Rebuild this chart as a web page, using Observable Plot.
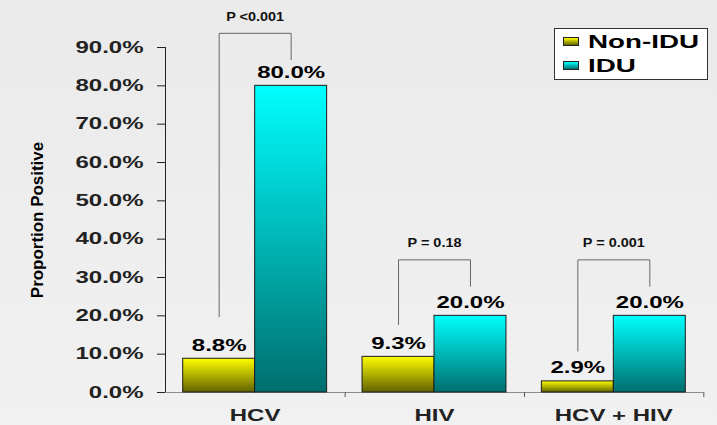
<!DOCTYPE html>
<html>
<head>
<meta charset="utf-8">
<script src="https://cdn.jsdelivr.net/npm/d3@7"></script>
<script src="https://cdn.jsdelivr.net/npm/@observablehq/plot@0.6"></script>
<style>
html, body { margin: 0; padding: 0; }
body { width: 717px; height: 425px; overflow: hidden; background: linear-gradient(#eaeaea, #f1f1f1); font-family: "Liberation Sans", Arial, sans-serif; }
#chart { position: relative; width: 717px; height: 425px; }
#legend { position: absolute; left: 554px; top: 28px; width: 154px; height: 52px; background: #fff; border: 1px solid #333; box-sizing: border-box; }
.sw { position: absolute; left: 8px; width: 16px; height: 9px; border: 1px solid #222; box-sizing: border-box; }
.lab { position: absolute; left: 33px; font-weight: bold; font-size: 18.5px; line-height: 1; white-space: nowrap; transform: scaleX(1.5); transform-origin: left center; color: #000; }
</style>
</head>
<body>
<div id="chart">
  <div id="legend"></div>
</div>
<script>
// ---- data ----
const groups = ["HCV", "HIV", "HCV + HIV"];
const series = ["Non-IDU", "IDU"];
const nonIduValues = [8.8, 9.3, 2.9];
const iduValues = [80.0, 20.0, 20.0];
const pLabels = ["P <0.001", "P = 0.18", "P = 0.001"];
const bracketTop = [93.7, 34.6, 34.6];
const bracketLeftEnd = [19.8, 17.7, 10.8];
const bracketRightEnd = [86.8, 27.7, 27.7];
const pLabelY = [97.0, 37.9, 37.9];
const yTicks = [0, 10, 20, 30, 40, 50, 60, 70, 80, 90];
const yLabel = "Proportion Positive";
const seriesColors = [["#ffff00", "#626200"], ["#00ffff", "#006e6e"]];

// ---- tables built from the arrays ----
const rows = groups.flatMap((g, i) => [
  {group: g, series: series[0], value: nonIduValues[i]},
  {group: g, series: series[1], value: iduValues[i]}
]);
const bracketPts = groups.flatMap((g, i) => [
  {group: g, series: series[0], y: bracketLeftEnd[i]},
  {group: g, series: series[0], y: bracketTop[i]},
  {group: g, series: series[1], y: bracketTop[i]},
  {group: g, series: series[1], y: bracketRightEnd[i]}
]);
const pRows = groups.map((g, i) => ({group: g, label: pLabels[i], y: pLabelY[i]}));

const plot = Plot.plot({
  width: 717,
  height: 425,
  marginTop: 47,
  marginBottom: 33,
  marginLeft: 165,
  marginRight: 14,
  style: {background: "none", fontFamily: '"Liberation Sans", Arial, sans-serif', fontSize: "16px", fontWeight: "bold", color: "#222"},
  fx: {domain: groups, padding: 0, round: false, axis: "bottom", label: null, tickSize: 0, tickPadding: 17},
  x: {domain: series, paddingInner: 0, paddingOuter: 0.246, round: false, axis: null},
  y: {domain: [0, 90], ticks: yTicks, tickFormat: d => d.toFixed(1) + "%", tickSize: 8, tickPadding: 14, line: true,
      label: yLabel, labelArrow: "none", labelAnchor: "center", labelOffset: 134},
  color: {type: "ordinal", domain: series, range: ["url(#gradNonIdu)", "url(#gradIdu)"]},
  marks: [
    Plot.ruleY([0], {stroke: "#8c8c8c"}),
    Plot.ruleX(groups, {fx: d => d, x: () => series[1], y1: 0, y2: -1.3, dx: 54, stroke: "#555"}),
    Plot.barY(rows, {fx: "group", x: "series", y: "value", fill: "series", stroke: "#1c1c1c", strokeWidth: 1}),
    Plot.text(rows, {fx: "group", x: "series", y: "value", text: d => d.value.toFixed(1) + "%", dy: -8, lineAnchor: "bottom",
                     fontSize: 16, fontWeight: "bold", fill: "#000"}),
    Plot.line(bracketPts, {fx: "group", x: "series", y: "y", z: "group", stroke: "#666", strokeWidth: 1}),
    Plot.text(pRows, {fx: "group", y: "y", text: "label", lineAnchor: "bottom", fontSize: 13.5, fontWeight: "bold", fill: "#111"})
  ]
});

const chart = document.getElementById("chart");
chart.insertBefore(plot, chart.firstChild);
const svg = plot.tagName.toLowerCase() === "svg" ? plot : plot.querySelector("svg");

// gradients for the bars
const defs = d3.select(svg).insert("defs", ":first-child");
[["gradNonIdu", seriesColors[0]], ["gradIdu", seriesColors[1]]].forEach(([id, [top, bottom]]) => {
  const g = defs.append("linearGradient").attr("id", id).attr("x1", 0).attr("y1", 0).attr("x2", 0).attr("y2", 1);
  g.append("stop").attr("offset", "0%").attr("stop-color", top);
  g.append("stop").attr("offset", "100%").attr("stop-color", bottom);
});

// y-axis title: bold, no arrow
svg.querySelectorAll("text").forEach(t => {
  if (t.textContent.includes(yLabel)) {
    t.textContent = yLabel;
    t.style.fontSize = "16px";
    t.style.fontWeight = "bold";
    t.setAttribute("fill", "#000");
  }
});

// widen the lettering like the original
svg.querySelectorAll("text").forEach(t => {
  const cs = getComputedStyle(t);
  const fs = parseFloat(cs.fontSize);
  const tr = t.getAttribute("transform") || "";
  const s = /rotate/.test(tr) ? 1.06 : fs >= 15 ? 1.5 : 1.07;
  const b = t.getBBox();
  const anchor = cs.textAnchor;
  const ax = anchor === "end" ? b.x + b.width : anchor === "middle" ? b.x + b.width / 2 : b.x;
  t.setAttribute("transform", `${tr} translate(${ax},0) scale(${s},1) translate(${-ax},0)`);
});

// legend
const legend = document.getElementById("legend");
series.forEach((name, i) => {
  const sw = document.createElement("div");
  sw.className = "sw";
  sw.style.top = (8 + i * 24.3) + "px";
  sw.style.background = `linear-gradient(${seriesColors[i][0]}, ${seriesColors[i][1]})`;
  legend.appendChild(sw);
  const lab = document.createElement("div");
  lab.className = "lab";
  lab.style.top = (4 + i * 24.3) + "px";
  lab.textContent = name;
  legend.appendChild(lab);
});
</script>
</body>
</html>
